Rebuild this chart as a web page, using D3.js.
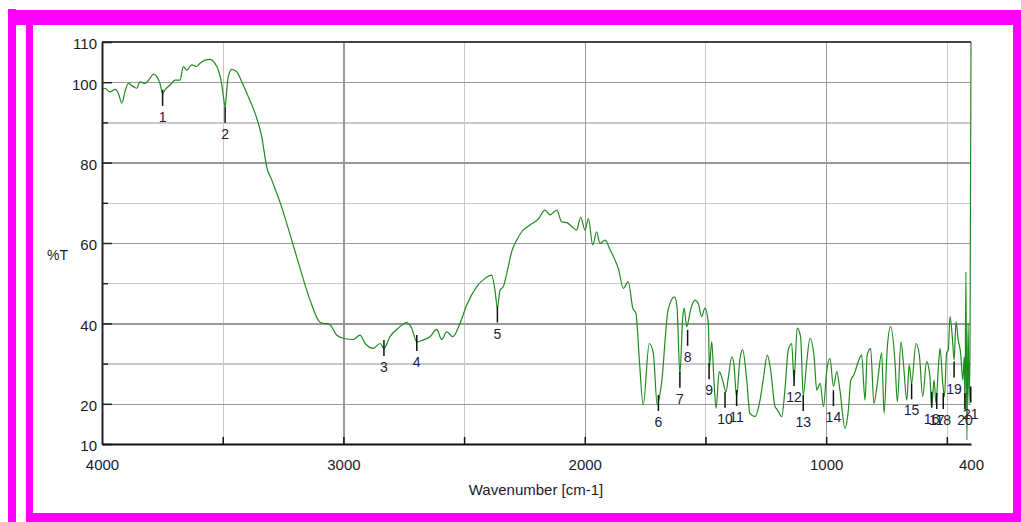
<!DOCTYPE html>
<html>
<head>
<meta charset="utf-8">
<script src="https://cdn.jsdelivr.net/npm/d3@7"></script>
<style>
body { margin: 0; background: #fff; }
text { font-family: "Liberation Sans", Arial, sans-serif; }
.grid line { shape-rendering: crispEdges; }
.grid path { display: none; }
</style>
</head>
<body>
<svg id="chart" width="1021" height="522"></svg>
<script>
/////////////
// Data
/////////////

// IR spectrum: [wavenumber cm-1, %T]
const spectrum = [
  [4000,98.1],[3988,98.5],[3967,97.6],[3946,98.2],[3932,97.2],[3918,94.8],[3905,97.6],[3891,99.7],
  [3870,98.9],[3856,98.5],[3843,100.1],[3822,99.7],[3801,101.0],[3787,102.0],[3773,101.4],[3760,99.7],
  [3749,97.2],[3739,98.1],[3718,99.3],[3698,100.5],[3677,100.5],[3663,103.9],[3649,103.0],[3628,104.3],
  [3608,103.9],[3594,104.7],[3573,105.5],[3553,105.7],[3532,104.7],[3518,103.0],[3507,100.5],[3497,96.4],
  [3490,93.9],[3483,98.1],[3477,101.4],[3463,103.2],[3442,102.6],[3421,100.1],[3394,96.4],[3366,92.3],
  [3338,86.4],[3318,79.0],[3297,75.7],[3256,69.0],[3214,60.7],[3180,53.8],[3138,45.8],[3097,40.3],
  [3055,39.6],[3028,37.1],[3000,36.3],[2959,36.0],[2931,37.1],[2910,35.0],[2876,33.8],[2848,35.0],
  [2832,33.8],[2807,36.7],[2773,38.8],[2738,40.2],[2717,38.8],[2696,35.4],[2669,35.9],[2641,36.7],
  [2613,38.5],[2593,36.0],[2572,37.9],[2547,36.7],[2517,40.0],[2489,44.6],[2448,49.1],[2413,51.2],
  [2386,52.0],[2372,48.3],[2362,43.8],[2351,48.3],[2338,49.1],[2323,52.5],[2303,57.8],[2282,60.7],
  [2261,62.8],[2227,64.5],[2193,65.9],[2165,68.2],[2144,67.0],[2116,68.2],[2096,65.3],[2072,65.0],
  [2054,64.1],[2034,63.2],[2017,66.4],[1999,63.2],[1985,66.1],[1967,59.5],[1951,62.8],[1937,59.9],
  [1916,60.7],[1895,58.3],[1875,55.8],[1861,53.7],[1840,48.7],[1820,50.4],[1801,43.8],[1788,42.5],
  [1774,30.9],[1758,19.7],[1733,35.0],[1716,32.6],[1700,19.7],[1682,25.1],[1655,43.3],[1628,46.6],
  [1618,44.2],[1606,27.6],[1594,41.7],[1588,43.8],[1578,39.2],[1560,43.8],[1543,45.8],[1530,45.0],
  [1516,41.7],[1502,43.8],[1488,40.0],[1484,29.2],[1474,35.4],[1465,25.9],[1456,18.9],[1443,28.0],
  [1429,25.9],[1415,23.0],[1405,26.7],[1391,31.7],[1382,29.7],[1371,21.8],[1357,31.3],[1346,33.4],
  [1329,25.9],[1316,17.6],[1295,16.8],[1274,20.9],[1260,26.3],[1244,32.1],[1230,28.4],[1212,19.3],
  [1202,18.5],[1194,17.6],[1184,16.8],[1171,23.4],[1157,33.4],[1143,35.0],[1133,25.9],[1120,38.8],
  [1106,36.7],[1095,22.2],[1081,30.1],[1067,36.3],[1050,31.7],[1039,23.4],[1025,25.1],[1011,19.3],
  [998,28.0],[984,31.3],[970,24.3],[956,28.0],[943,23.4],[922,13.9],[908,18.5],[898,25.9],
  [885,27.2],[867,30.5],[853,32.1],[839,20.9],[830,32.1],[816,33.8],[802,20.1],[788,25.1],
  [770,32.6],[760,17.6],[747,33.8],[733,39.2],[715,30.5],[705,20.5],[690,35.4],[680,30.1],
  [666,20.9],[656,29.7],[646,25.1],[628,35.0],[614,32.1],[600,21.8],[584,30.5],[570,26.7],
  [563,19.3],[553,25.9],[545,20.1],[535,29.2],[528,33.8],[517,25.1],[510,21.8],[501,32.6],
  [494,33.4],[487,41.7],[477,36.3],[470,30.9],[462,40.4],[453,35.9],[443,32.6],[434,25.9],
  [428,31.7],[425,18.5],[421,52.8],[417,11.0],[412,40.0],[408,20.0],[404,35.0],[400,110]
];

// picked peaks: number, wavenumber, %T at top of marker
const peakNums = [1,2,3,4,5,6,7,8,9,10,11,12,13,14,15,16,17,18,19,20,21];
const peakWn   = [3749,3490,2832,2696,2362,1695,1606,1574,1485,1419,1371,1133,1095,970,646,563,542,515,470,425,401];
const peakT    = [98.1,93.9,35.9,37.1,44.2,22.2,28.0,38.4,30.1,23.0,23.4,28.4,22.2,23.4,25.1,23.0,22.7,22.7,30.5,22.7,24.3];

const xLabels = [4000,3000,2000,1000,400];
const xMajor  = [3000,2000,1000];
const xMinor  = [3500,2500,1500,500];
const yLabels = [110,100,80,60,40,20,10];
const yMajor  = [100,80,60,40,20];
const yMinor  = [90,70,50,30];

////////////////
// Setup
////////////////

const svg = d3.select('#chart');

// magenta frame
const frame = [[8,9,8,513],[16,10,1005,15],[26,25,7,497],[26,513,995,9],[1013,25,8,488]];
svg.selectAll('rect.frame').data(frame).enter().append('rect')
  .attr('class','frame')
  .attr('x', d => d[0]).attr('y', d => d[1])
  .attr('width', d => d[2]).attr('height', d => d[3])
  .attr('fill','#ff00ff');

const pLeft = 102, pRight = 971, pTop = 42, pBottom = 444;

const x = d3.scaleLinear().domain([4000,400]).range([pLeft,pRight]);
const y = d3.scaleLinear().domain([10,110]).range([pBottom,pTop]);

// grid
function vgrid(vals, col, w) {
  svg.append('g').attr('class','grid')
    .attr('transform', `translate(0,${pBottom})`)
    .call(d3.axisBottom(x).tickValues(vals).tickSize(-(pBottom-pTop)).tickFormat(''))
    .selectAll('line').attr('stroke', col).attr('stroke-width', w);
}
function hgrid(vals, col, w) {
  svg.append('g').attr('class','grid')
    .attr('transform', `translate(${pLeft},0)`)
    .call(d3.axisLeft(y).tickValues(vals).tickSize(-(pRight-pLeft)).tickFormat(''))
    .selectAll('line').attr('stroke', col).attr('stroke-width', w);
}
vgrid(xMinor, '#c8c8c8', 1);
hgrid(yMinor, '#c8c8c8', 1.5);
vgrid(xMajor, '#999', 1.5);
hgrid(yMajor, '#999', 1.5);

// spectrum
const line = d3.line().curve(d3.curveMonotoneX).x(d => x(d[0])).y(d => y(d[1]));
svg.append('path')
  .datum(spectrum)
  .attr('d', line)
  .attr('fill','none')
  .attr('stroke','#1f8b1f')
  .attr('stroke-width',1.2)
  .attr('stroke-linejoin','round');

// top frame line of the plot
svg.append('line').attr('x1',pLeft).attr('x2',pRight).attr('y1',pTop).attr('y2',pTop)
  .attr('stroke','#444').attr('stroke-width',2);

// y axis
const yAx = svg.append('g').attr('transform', `translate(${pLeft},0)`)
  .call(d3.axisLeft(y).tickValues(yLabels).tickSizeInner(-10).tickSizeOuter(0).tickPadding(5));
yAx.select('.domain').attr('stroke','#222').attr('stroke-width',2);
yAx.selectAll('line').attr('stroke','#222').attr('stroke-width',1.5);
yAx.selectAll('text').attr('font-size',15).attr('fill','#1a1a2a').attr('dy','0.46em')
  .attr('font-family','"Liberation Sans", Arial, sans-serif');

const yMin = svg.append('g').attr('transform', `translate(${pLeft},0)`)
  .call(d3.axisLeft(y).tickValues(yMinor).tickSizeInner(-6).tickSizeOuter(0).tickFormat(''));
yMin.select('.domain').remove();
yMin.selectAll('line').attr('stroke','#222').attr('stroke-width',1.5);

// x axis
const xAx = svg.append('g').attr('transform', `translate(0,${pBottom})`)
  .call(d3.axisBottom(x).tickValues(xLabels).tickFormat(d3.format('d')).tickSize(0).tickPadding(15));
xAx.select('.domain').attr('stroke','#111').attr('stroke-width',2);
xAx.selectAll('text').attr('font-size',15).attr('fill','#1a1a2a')
  .attr('font-family','"Liberation Sans", Arial, sans-serif');

const xTk = svg.append('g').attr('transform', `translate(0,${pBottom})`)
  .call(d3.axisBottom(x).tickValues(xMinor.concat(xMajor)).tickSizeInner(-7).tickSizeOuter(0).tickFormat(''));
xTk.select('.domain').remove();
xTk.selectAll('line').attr('stroke','#111').attr('stroke-width',1.5);

// axis titles
svg.append('text').attr('x',47).attr('y',260).attr('font-size',14).attr('fill','#1a1a2a').text('%T');
svg.append('text').attr('x',536).attr('y',495).attr('text-anchor','middle')
  .attr('font-size',15).attr('fill','#1a1a2a').text('Wavenumber [cm-1]');

// peak markers
const peaks = peakNums.map((n,i) => ({n: n, wn: peakWn[i], t: peakT[i]}));
const pk = svg.selectAll('g.peak').data(peaks).enter().append('g').attr('class','peak');
pk.append('line')
  .attr('x1', d => x(d.wn)).attr('x2', d => x(d.wn))
  .attr('y1', d => y(d.t)).attr('y2', d => y(d.t) + 16)
  .attr('stroke','#111').attr('stroke-width',1.5);
pk.append('text')
  .attr('x', d => x(d.wn)).attr('y', d => y(d.t) + 32)
  .attr('text-anchor','middle').attr('font-size',14).attr('fill','#1c1c3c')
  .text(d => d.n);
</script>
</body>
</html>
